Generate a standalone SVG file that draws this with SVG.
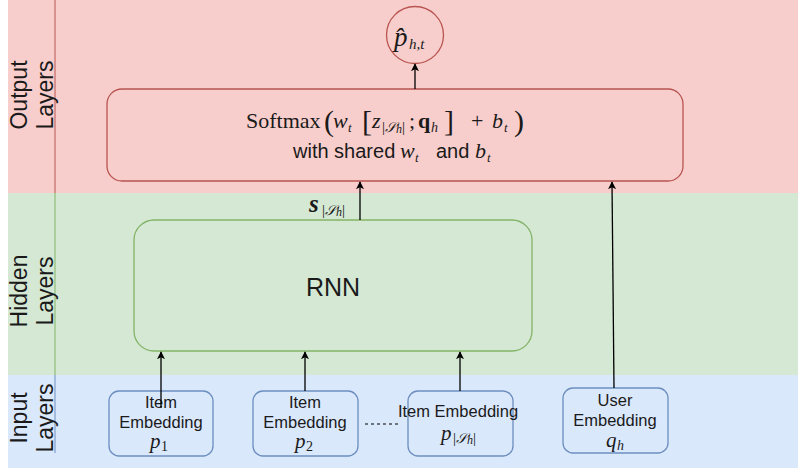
<svg xmlns="http://www.w3.org/2000/svg" width="798" height="469" viewBox="0 0 798 469">
  <defs>
    <marker id="arrow" viewBox="0 0 10 10" refX="9" refY="5" markerWidth="8" markerHeight="8" markerUnits="userSpaceOnUse" orient="auto">
      <path d="M0,0 L10,5 L0,10 L2.5,5 Z" fill="#000"/>
    </marker>
    <style>
      .sans { font-family: "Liberation Sans", Arial, sans-serif; fill: #1a1a1a; }
      .serif { font-family: "Liberation Serif", "Times New Roman", serif; fill: #1a1a1a; }
      .it { font-style: italic; }
      .scr { font-family: "DejaVu Serif", "Liberation Serif", serif; font-style: italic; }
      .band-label { font-size: 23px; text-anchor: middle; }
      .item-label { font-size: 16.5px; text-anchor: middle; }
      .red { fill: #f8cecc; stroke: #b85450; stroke-width: 1.3; }
      .green { fill: #d5e8d4; stroke: #82b366; stroke-width: 1.3; }
      .blue { fill: #dae8fc; stroke: #6c8ebf; stroke-width: 1.3; }
      .edge { stroke: #000; stroke-width: 1.3; fill: none; marker-end: url(#arrow); }
    </style>
  </defs>

  <!-- layer bands -->
  <g id="bands">
    <rect x="0" y="0" width="798" height="469" fill="#ffffff"/>
    <rect x="8" y="0" width="790" height="193" fill="#f8cecc"/>
    <rect x="8" y="193" width="790" height="182" fill="#d5e8d4"/>
    <rect x="8" y="375" width="790" height="93" fill="#dae8fc"/>
    <line x1="55" y1="0" x2="55" y2="193" stroke="#b85450" stroke-width="1"/>
    <line x1="55" y1="193" x2="55" y2="375" stroke="#82b366" stroke-width="1"/>
    <line x1="55" y1="375" x2="55" y2="453" stroke="#6c8ebf" stroke-width="1"/>
    <text class="sans band-label" transform="translate(27,95) rotate(-90)">Output</text>
    <text class="sans band-label" transform="translate(53,95) rotate(-90)">Layers</text>
    <text class="sans band-label" transform="translate(27,291) rotate(-90)">Hidden</text>
    <text class="sans band-label" transform="translate(53,291) rotate(-90)">Layers</text>
    <text class="sans band-label" transform="translate(27,418) rotate(-90)">Input</text>
    <text class="sans band-label" transform="translate(53,418) rotate(-90)">Layers</text>
  </g>

  <!-- output node: estimated probability p-hat -->
  <g id="output">
    <circle class="red" cx="415" cy="35" r="28.5"/>
    <text class="serif it" font-size="27"><tspan x="394" y="46">p̂</tspan><tspan x="409" y="49" font-size="15">h,t</tspan></text>
  </g>

  <!-- softmax node -->
  <g id="softmax">
    <rect class="red" x="107" y="89" width="576" height="92" rx="15" ry="15"/>
    <text class="serif" font-size="22">
      <tspan x="246" y="128">Softmax</tspan>
      <tspan x="324" y="131" font-size="30">(</tspan>
      <tspan x="333" y="128" class="it">w</tspan>
      <tspan x="348" y="132" class="it" font-size="13">t</tspan>
      <tspan x="362" y="131" font-size="30">[</tspan>
      <tspan x="372" y="128" class="it">z</tspan>
      <tspan x="382" y="132" font-size="15">|</tspan><tspan class="scr" font-size="14">𝒮</tspan><tspan class="it" font-size="12" dy="1">h</tspan><tspan font-size="15" dy="-1">|</tspan>
      <tspan x="409" y="128">;</tspan>
      <tspan x="418" y="128" font-weight="bold">q</tspan>
      <tspan x="431" y="132" class="it" font-size="14">h</tspan>
      <tspan x="444" y="131" font-size="30">]</tspan>
      <tspan x="471" y="128">+</tspan>
      <tspan x="492" y="128" class="it">b</tspan>
      <tspan x="504" y="132" class="it" font-size="13">t</tspan>
      <tspan x="514" y="131" font-size="30">)</tspan>
    </text>
    <text font-size="20">
      <tspan class="sans" x="293" y="158">with shared </tspan>
      <tspan class="serif it" x="400" y="158" font-size="22">w</tspan>
      <tspan class="serif it" x="415" y="162" font-size="13">t</tspan>
      <tspan class="sans" x="436" y="158">and</tspan>
      <tspan class="serif it" x="475" y="158" font-size="22">b</tspan>
      <tspan class="serif it" x="487" y="162" font-size="13">t</tspan>
    </text>
  </g>

  <!-- hidden RNN node -->
  <g id="rnn">
    <rect class="green" x="134" y="220" width="398" height="131" rx="20" ry="20"/>
    <text class="sans" font-size="25" x="333" y="296" text-anchor="middle">RNN</text>
  </g>

  <!-- input nodes -->
  <g id="item1">
    <rect class="blue" x="109" y="391" width="104" height="65" rx="10" ry="10"/>
    <text class="sans item-label" x="161" y="408">Item</text>
    <text class="sans item-label" x="161" y="428">Embedding</text>
    <text class="serif it" font-size="21"><tspan x="150" y="448">p</tspan><tspan x="161" y="451" font-size="14" font-style="normal">1</tspan></text>
  </g>
  <g id="item2">
    <rect class="blue" x="253" y="391" width="105" height="65" rx="10" ry="10"/>
    <text class="sans item-label" x="305" y="408">Item</text>
    <text class="sans item-label" x="305" y="428">Embedding</text>
    <text class="serif it" font-size="21"><tspan x="295" y="448">p</tspan><tspan x="306" y="451" font-size="14" font-style="normal">2</tspan></text>
  </g>
  <g id="item-last">
    <rect class="blue" x="408" y="391" width="105" height="65" rx="10" ry="10"/>
    <text class="sans item-label" x="458" y="417">Item Embedding</text>
    <text class="serif" font-size="21"><tspan class="it" x="441" y="440">p</tspan><tspan x="453" y="443" font-size="15">|</tspan><tspan class="scr" font-size="14">𝒮</tspan><tspan class="it" font-size="12" dy="1">h</tspan><tspan font-size="15" dy="-1">|</tspan></text>
  </g>
  <g id="user">
    <rect class="blue" x="563" y="388" width="105" height="65" rx="10" ry="10"/>
    <text class="sans item-label" x="615" y="406">User</text>
    <text class="sans item-label" x="615" y="426">Embedding</text>
    <text class="serif it" font-size="21"><tspan x="606" y="447">q</tspan><tspan x="617" y="450" font-size="14">h</tspan></text>
  </g>

  <!-- connectors -->
  <g id="connectors">
    <line class="edge" x1="161" y1="408" x2="161" y2="352"/>
    <line class="edge" x1="305" y1="391" x2="305" y2="352"/>
    <line class="edge" x1="460" y1="391" x2="460" y2="352"/>
    <line class="edge" x1="614" y1="388" x2="612" y2="182"/>
    <line class="edge" x1="360" y1="220" x2="360" y2="182"/>
    <line class="edge" x1="415" y1="89" x2="415" y2="64"/>
    <line x1="365" y1="424" x2="401" y2="424" stroke="#000" stroke-width="1" stroke-dasharray="3,3"/>
    <text class="serif" font-size="25"><tspan class="it" font-weight="bold" x="309" y="212">s</tspan><tspan x="322" y="215" font-size="15">|</tspan><tspan class="scr" font-size="14">𝒮</tspan><tspan class="it" font-size="12" dy="1">h</tspan><tspan font-size="15" dy="-1">|</tspan></text>
  </g>
</svg>
